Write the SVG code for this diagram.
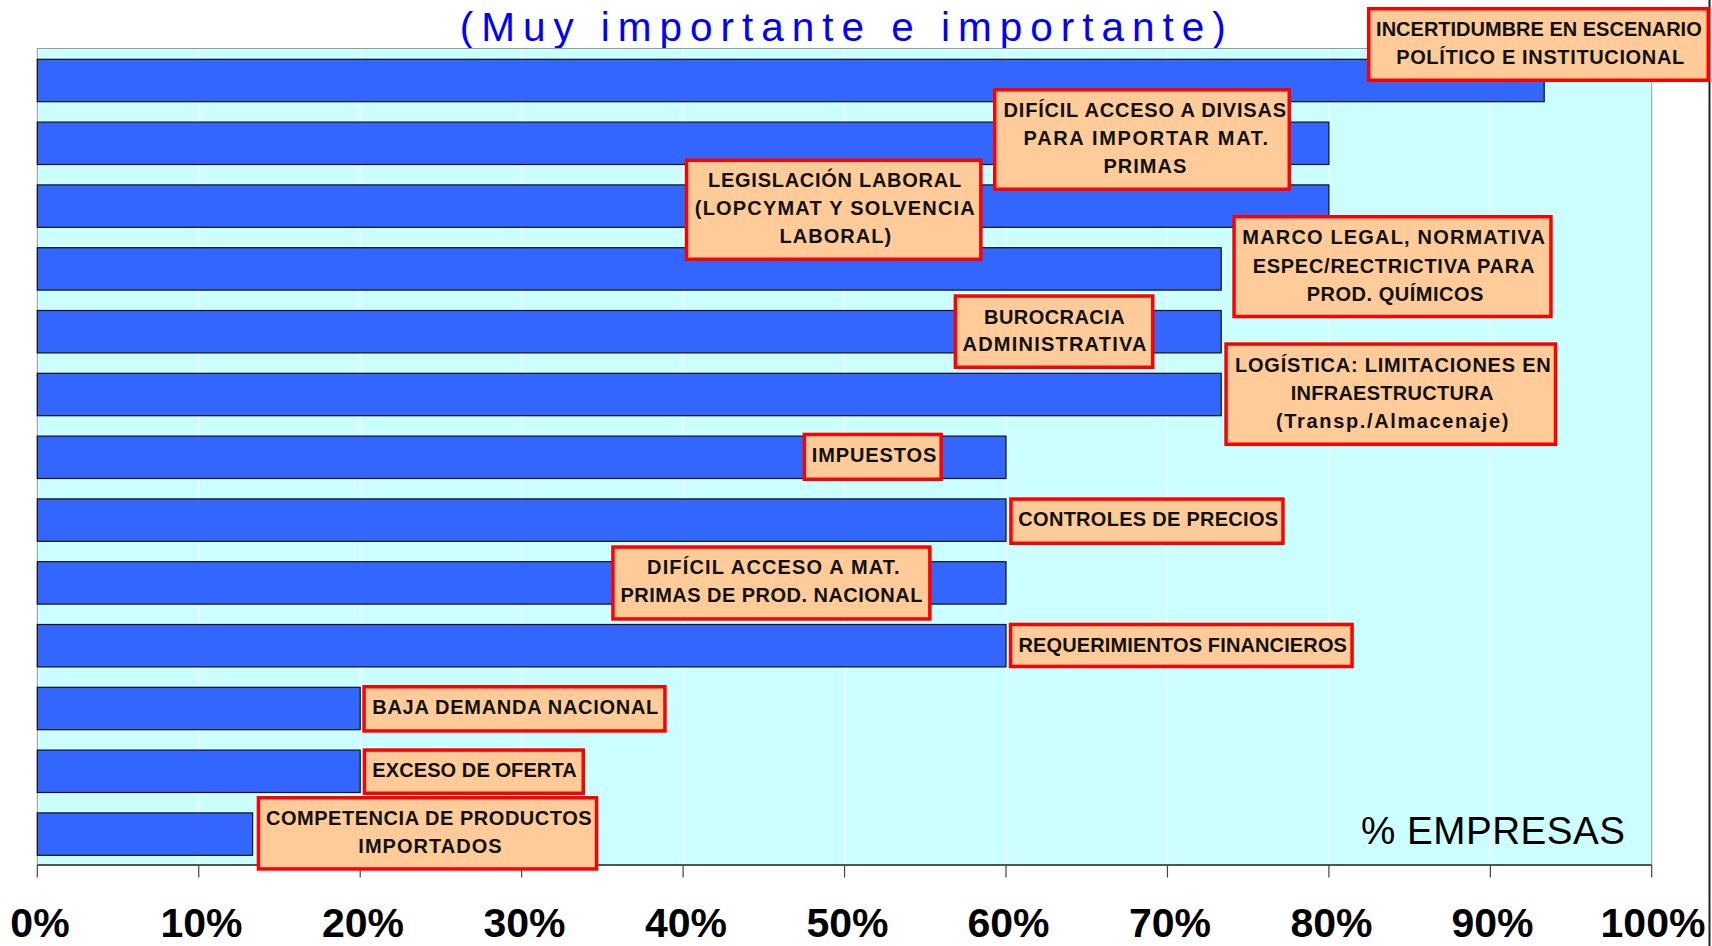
<svg xmlns="http://www.w3.org/2000/svg" width="1712" height="946" viewBox="0 0 1712 946">
<style>
.bar{fill:#3366FF;stroke:#111;stroke-width:1.2}
.grid{stroke:#FFFFFF;stroke-width:1}
.tick{stroke:#444;stroke-width:1.2}
.box{fill:#FFCC99;stroke:#FF0000;stroke-width:3.5}
.lbl{font-family:"Liberation Sans",Arial,sans-serif;font-weight:bold;font-size:20px;fill:#111;text-anchor:middle}
.ax{font-family:"Liberation Sans",Arial,sans-serif;font-weight:bold;font-size:41px;fill:#000;text-anchor:middle}
</style>
<rect width="1712" height="946" fill="#FFFFFF"/>
<g id="title">
<text x="842.7" y="40.7" font-family="'Liberation Sans',Arial,sans-serif" font-size="40.5" fill="#0000FF" text-anchor="middle" textLength="766" lengthAdjust="spacing">(Muy importante e importante)</text>
</g>
<g id="plot">
<rect x="37.3" y="48.5" width="1614.4" height="816.5" fill="#CCFFFF" stroke="#999" stroke-width="1"/>
<g class="grid">
<line x1="198.75" y1="49" x2="198.75" y2="864"/>
<line x1="360.2" y1="49" x2="360.2" y2="864"/>
<line x1="521.65" y1="49" x2="521.65" y2="864"/>
<line x1="683.1" y1="49" x2="683.1" y2="864"/>
<line x1="844.55" y1="49" x2="844.55" y2="864"/>
<line x1="1006" y1="49" x2="1006" y2="864"/>
<line x1="1167.45" y1="49" x2="1167.45" y2="864"/>
<line x1="1328.9" y1="49" x2="1328.9" y2="864"/>
<line x1="1490.35" y1="49" x2="1490.35" y2="864"/>
</g>
</g>
<g id="bars">
<rect class="bar" x="37.3" y="59.3" width="1506.9" height="42.4"/>
<rect class="bar" x="37.3" y="122.1" width="1291.6" height="42.4"/>
<rect class="bar" x="37.3" y="184.9" width="1291.6" height="42.4"/>
<rect class="bar" x="37.3" y="247.7" width="1183.9" height="42.4"/>
<rect class="bar" x="37.3" y="310.5" width="1183.9" height="42.4"/>
<rect class="bar" x="37.3" y="373.3" width="1183.9" height="42.4"/>
<rect class="bar" x="37.3" y="436.1" width="968.7" height="42.4"/>
<rect class="bar" x="37.3" y="498.9" width="968.7" height="42.4"/>
<rect class="bar" x="37.3" y="561.7" width="968.7" height="42.4"/>
<rect class="bar" x="37.3" y="624.5" width="968.7" height="42.4"/>
<rect class="bar" x="37.3" y="687.3" width="322.9" height="42.4"/>
<rect class="bar" x="37.3" y="750.1" width="322.9" height="42.4"/>
<rect class="bar" x="37.3" y="812.9" width="215.3" height="42.4"/>
</g>
<g id="axis">
<line x1="37.3" y1="865" x2="1651.7" y2="865" stroke="#555" stroke-width="2"/>
<g class="tick">
<line x1="37.3" y1="865" x2="37.3" y2="877.5"/>
<line x1="198.75" y1="865" x2="198.75" y2="877.5"/>
<line x1="360.2" y1="865" x2="360.2" y2="877.5"/>
<line x1="521.65" y1="865" x2="521.65" y2="877.5"/>
<line x1="683.1" y1="865" x2="683.1" y2="877.5"/>
<line x1="844.55" y1="865" x2="844.55" y2="877.5"/>
<line x1="1006" y1="865" x2="1006" y2="877.5"/>
<line x1="1167.45" y1="865" x2="1167.45" y2="877.5"/>
<line x1="1328.9" y1="865" x2="1328.9" y2="877.5"/>
<line x1="1490.35" y1="865" x2="1490.35" y2="877.5"/>
<line x1="1651.7" y1="865" x2="1651.7" y2="877.5"/>
</g>
<text class="ax" x="40" y="937">0%</text>
<text class="ax" x="201.5" y="937">10%</text>
<text class="ax" x="363" y="937">20%</text>
<text class="ax" x="524.5" y="937">30%</text>
<text class="ax" x="686" y="937">40%</text>
<text class="ax" x="847.5" y="937">50%</text>
<text class="ax" x="1008.5" y="937">60%</text>
<text class="ax" x="1170" y="937">70%</text>
<text class="ax" x="1331.5" y="937">80%</text>
<text class="ax" x="1492.5" y="937">90%</text>
<text class="ax" x="1653" y="937">100%</text>
<text x="1361" y="844.3" font-family="'Liberation Sans',Arial,sans-serif" font-size="38.6" fill="#000" textLength="264" lengthAdjust="spacing">% EMPRESAS</text>
</g>
<line id="frame-right" x1="1709.5" y1="0" x2="1709.5" y2="946" stroke="#222" stroke-width="2"/>
<g id="n-incertidumbre">
<rect class="box" x="1368.75" y="8.75" width="339.5" height="71.5"/>
<text class="lbl" x="1538.9" y="35.5" textLength="325.6" lengthAdjust="spacing">INCERTIDUMBRE EN ESCENARIO</text>
<text class="lbl" x="1540.2" y="64" textLength="288" lengthAdjust="spacing">POLÍTICO E INSTITUCIONAL</text>
</g>
<g id="n-divisas">
<rect class="box" x="994.75" y="89.75" width="294.5" height="99.5"/>
<text class="lbl" x="1144.8" y="116.7" textLength="282.5" lengthAdjust="spacing">DIFÍCIL ACCESO A DIVISAS</text>
<text class="lbl" x="1145.8" y="145" textLength="244.4" lengthAdjust="spacing">PARA IMPORTAR MAT.</text>
<text class="lbl" x="1144.9" y="173.3" textLength="82.7" lengthAdjust="spacing">PRIMAS</text>
</g>
<g id="n-legislacion">
<rect class="box" x="686.55" y="160.25" width="294.3" height="99"/>
<text class="lbl" x="834.6" y="186.7" textLength="253" lengthAdjust="spacing">LEGISLACIÓN LABORAL</text>
<text class="lbl" x="834.8" y="215" textLength="280" lengthAdjust="spacing">(LOPCYMAT Y SOLVENCIA</text>
<text class="lbl" x="835.3" y="243.3" textLength="111.6" lengthAdjust="spacing">LABORAL)</text>
</g>
<g id="n-marco-legal">
<rect class="box" x="1234.05" y="216.75" width="316.9" height="99.8"/>
<text class="lbl" x="1393.7" y="244.3" textLength="302.7" lengthAdjust="spacing">MARCO LEGAL, NORMATIVA</text>
<text class="lbl" x="1393.5" y="272.5" textLength="281.7" lengthAdjust="spacing">ESPEC/RECTRICTIVA PARA</text>
<text class="lbl" x="1395" y="300.5" textLength="176.7" lengthAdjust="spacing">PROD. QUÍMICOS</text>
</g>
<g id="n-burocracia">
<rect class="box" x="955.35" y="296.05" width="197.4" height="71.2"/>
<text class="lbl" x="1054.3" y="324.3" textLength="140.6" lengthAdjust="spacing">BUROCRACIA</text>
<text class="lbl" x="1054.5" y="351" textLength="184" lengthAdjust="spacing">ADMINISTRATIVA</text>
</g>
<g id="n-logistica">
<rect class="box" x="1226.05" y="344.05" width="329.5" height="100.2"/>
<text class="lbl" x="1392.9" y="372.3" textLength="315.7" lengthAdjust="spacing">LOGÍSTICA: LIMITACIONES EN</text>
<text class="lbl" x="1392" y="399.8" textLength="202.7" lengthAdjust="spacing">INFRAESTRUCTURA</text>
<text class="lbl" x="1392.2" y="428" textLength="232.3" lengthAdjust="spacing">(Transp./Almacenaje)</text>
</g>
<g id="n-impuestos">
<rect class="box" x="804.35" y="434.45" width="136.8" height="44.8"/>
<text class="lbl" x="874" y="462.3" textLength="124.5" lengthAdjust="spacing">IMPUESTOS</text>
</g>
<g id="n-controles">
<rect class="box" x="1010.95" y="499.05" width="272" height="44.2"/>
<text class="lbl" x="1148.2" y="526" textLength="259.7" lengthAdjust="spacing">CONTROLES DE PRECIOS</text>
</g>
<g id="n-mat-primas">
<rect class="box" x="612.95" y="547.05" width="316.9" height="71.9"/>
<text class="lbl" x="773.3" y="574" textLength="252.5" lengthAdjust="spacing">DIFÍCIL ACCESO A MAT.</text>
<text class="lbl" x="771.4" y="602.3" textLength="302" lengthAdjust="spacing">PRIMAS DE PROD. NACIONAL</text>
</g>
<g id="n-requerimientos">
<rect class="box" x="1010.55" y="624.45" width="341.5" height="42"/>
<text class="lbl" x="1182.7" y="652.3" textLength="328.5" lengthAdjust="spacing">REQUERIMIENTOS FINANCIEROS</text>
</g>
<g id="n-baja-demanda">
<rect class="box" x="364.05" y="686.75" width="300.9" height="44.2"/>
<text class="lbl" x="515.3" y="714.3" textLength="286" lengthAdjust="spacing">BAJA DEMANDA NACIONAL</text>
</g>
<g id="n-exceso-oferta">
<rect class="box" x="364.45" y="750.05" width="218.8" height="43.2"/>
<text class="lbl" x="474.5" y="777.3" textLength="204.3" lengthAdjust="spacing">EXCESO DE OFERTA</text>
</g>
<g id="n-competencia">
<rect class="box" x="258.45" y="797.75" width="338.1" height="71.2"/>
<text class="lbl" x="428.8" y="825" textLength="325.7" lengthAdjust="spacing">COMPETENCIA DE PRODUCTOS</text>
<text class="lbl" x="430" y="853.3" textLength="143.3" lengthAdjust="spacing">IMPORTADOS</text>
</g>
</svg>
